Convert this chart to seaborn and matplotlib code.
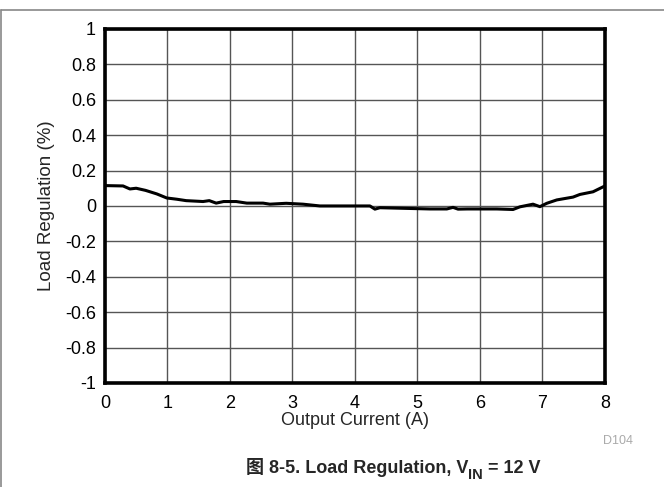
import numpy as np
import pandas as pd
import matplotlib
matplotlib.use("Agg")
import matplotlib.pyplot as plt
import seaborn as sns
from matplotlib.lines import Line2D

# ── Datos ────────────────────────────────────────────────────────────────────
corriente = [0.0, 0.29, 0.4, 0.5, 0.65, 0.83, 0.99, 1.15, 1.3, 1.57, 1.67, 1.78, 1.9,
             2.1, 2.27, 2.53, 2.64, 2.9, 3.17, 3.44, 4.24, 4.32, 4.4, 5.2, 5.47,
             5.57, 5.65, 5.8, 6.27, 6.53, 6.64, 6.85, 6.96, 7.07, 7.23, 7.49, 7.6,
             7.81, 8.0]
regulacion = [0.115, 0.113, 0.096, 0.10, 0.088, 0.068, 0.045, 0.038, 0.03, 0.025,
              0.03, 0.016, 0.025, 0.025, 0.016, 0.016, 0.01, 0.015, 0.01, 0.0, 0.0,
              -0.018, -0.01, -0.017, -0.017, -0.008, -0.018, -0.017, -0.017, -0.02,
              -0.005, 0.01, -0.004, 0.015, 0.034, 0.05, 0.065, 0.08, 0.113]

x_ticks = list(range(0, 9))
y_ticks = [1, 0.8, 0.6, 0.4, 0.2, 0, -0.2, -0.4, -0.6, -0.8, -1]
y_labels = ["1", "0.8", "0.6", "0.4", "0.2", "0", "-0.2", "-0.4", "-0.6", "-0.8", "-1"]

df = pd.DataFrame({"Corriente": corriente, "Regulacion": regulacion})

sns.set_theme(style="white")
plt.rcParams["font.family"] = ["Liberation Sans", "Noto Sans CJK SC", "DejaVu Sans"]

fig = plt.figure(figsize=(6.64, 4.87), dpi=100)
ax = fig.add_axes([0.158, 0.2136, 0.753, 0.727])

sns.lineplot(data=df, x="Corriente", y="Regulacion", color="black", linewidth=2.2, ax=ax)

ax.set_xlim(0, 8)
ax.set_ylim(-1, 1)
ax.set_xticks(x_ticks)
ax.set_xticklabels([str(t) for t in x_ticks])
ax.set_yticks(y_ticks)
ax.set_yticklabels(y_labels)
ax.tick_params(axis="both", length=0, labelsize=13, colors="black")
ax.tick_params(axis="y", pad=6.5)
ax.tick_params(axis="x", pad=8.5)
ax.grid(True, color="#555555", linewidth=1.0)
ax.set_axisbelow(True)
for s in ax.spines.values():
    s.set_color("black")
    s.set_linewidth(2.6)
    s.set_visible(True)

ax.set_xlabel("Output Current (A)", fontsize=13, labelpad=0)
ax.set_ylabel("Load Regulation (%)", fontsize=13.5, labelpad=7)

# ── Marco exterior y textos ──────────────────────────────────────────────────
fig.add_artist(Line2D([0.0015, 1.0], [0.979, 0.979], transform=fig.transFigure,
                      color="#888888", linewidth=1.2))
fig.add_artist(Line2D([0.0015, 0.0015], [0.979, 0.0], transform=fig.transFigure,
                      color="#888888", linewidth=1.2))

fig.text(0.93, 0.094, "D104", fontsize=9, color="#aaaaaa", ha="center", va="center")

# Título por piezas (subíndice sin mathtext para conservar el glifo CJK)
renderer = fig.canvas.get_renderer()
piezas = [("图 8-5. Load Regulation, V", 13, 0.0), ("IN", 10.5, -0.012), (" = 12 V", 13, 0.0)]
y_base = 0.028
textos = []
for s, fs, dy in piezas:
    t = fig.text(0, y_base + dy, s, fontsize=fs, fontweight="bold", ha="left", va="baseline")
    textos.append(t)
anchos = [t.get_window_extent(renderer).width / fig.bbox.width for t in textos]
x = 0.592 - sum(anchos) / 2
for t, w in zip(textos, anchos):
    t.set_x(x)
    x += w

plt.savefig("out.png", dpi=100)
